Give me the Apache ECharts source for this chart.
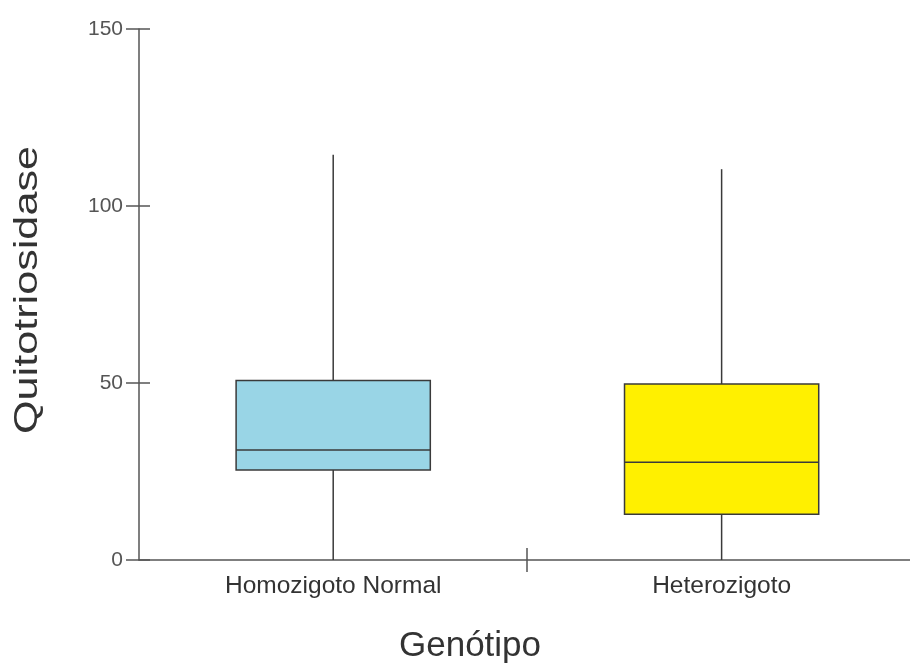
<!DOCTYPE html>
<html>
<head>
<meta charset="utf-8">
<script src="https://cdn.jsdelivr.net/npm/echarts@6/dist/echarts.min.js"></script>
<style>
  html, body { margin: 0; padding: 0; background: #fff; }
  #chart { width: 910px; height: 666px; }
</style>
</head>
<body>
<div id="chart"></div>
<script>
// Genotype groups and their box statistics (min, Q1, median, Q3, max)
const categories = ['Homozigoto Normal', 'Heterozigoto'];
const boxMin    = [0, 0];
const boxQ1     = [25.4, 12.9];
const boxMedian = [31.1, 27.6];
const boxQ3     = [50.7, 49.7];
const boxMax    = [114.5, 110.4];
const boxColors = ['#99d5e6', '#fff000'];
const yTicks    = [0, 50, 100, 150];

const FONT = '"Liberation Sans", Arial, sans-serif';
const AXIS_COLOR = '#555';

const boxData = categories.map((c, i) => [i, boxMin[i], boxQ1[i], boxMedian[i], boxQ3[i], boxMax[i]]);

function renderBox(params, api) {
  const idx = api.value(0);
  const pMin = api.coord([idx, api.value(1)]);
  const pQ1 = api.coord([idx, api.value(2)]);
  const pMed = api.coord([idx, api.value(3)]);
  const pQ3 = api.coord([idx, api.value(4)]);
  const pMax = api.coord([idx, api.value(5)]);
  const unit = api.size([1, 0])[0];
  const half = unit * 0.25;
  const cx = pQ1[0];
  const stroke = { stroke: '#3a3a3a', lineWidth: 1.5 };
  return {
    type: 'group',
    children: [
      { type: 'line', shape: { x1: cx, y1: pMax[1], x2: cx, y2: pQ3[1] }, style: stroke },
      { type: 'line', shape: { x1: cx, y1: pQ1[1], x2: cx, y2: pMin[1] }, style: stroke },
      { type: 'rect', shape: { x: cx - half, y: pQ3[1], width: half * 2, height: pQ1[1] - pQ3[1] },
        style: { fill: boxColors[idx], stroke: '#3a3a3a', lineWidth: 1.5 } },
      { type: 'line', shape: { x1: cx - half, y1: pMed[1], x2: cx + half, y2: pMed[1] }, style: stroke }
    ]
  };
}

// Divider tick between the two groups: a point axis on its own grid whose
// middle entry sits on the group boundary, with a tick crossing the baseline.
const dividerSlots = ['', 'divider', ''];
function dividerAxis(inside) {
  return {
    gridIndex: 1,
    type: 'category', data: dividerSlots, boundaryGap: false, position: 'bottom',
    axisLine: { show: false, onZero: false },
    axisTick: { show: true, inside: inside, length: 12, alignWithLabel: true,
      interval: (i) => i === 1, lineStyle: { color: AXIS_COLOR, width: 1.5 } },
    axisLabel: { show: false }, splitLine: { show: false }
  };
}

const chart = echarts.init(document.getElementById('chart'), null, { renderer: 'canvas' });
chart.setOption({
  animation: false,
  backgroundColor: '#fff',
  grid: [
    { left: 139, right: 0, top: 29, bottom: 106 },
    { left: 144, right: 0, top: 29, bottom: 106 }
  ],
  xAxis: [
    {
      // group axis: each group occupies one unit, centred on its index
      type: 'value', min: -0.5, max: 1.485, interval: 0.5,
      axisLine: { show: true, onZero: false, lineStyle: { color: AXIS_COLOR, width: 1.5 } },
      axisTick: { show: false },
      axisLabel: { color: '#333', fontSize: 24.5, fontFamily: FONT, margin: 14,
        showMinLabel: false, showMaxLabel: false,
        formatter: (v) => Number.isInteger(v) && categories[v] !== undefined ? categories[v] : '' },
      splitLine: { show: false }
    },
    dividerAxis(false),
    dividerAxis(true)
  ],
  yAxis: [
    {
      type: 'value', min: 0, max: 150, interval: 50, position: 'left',
      axisLine: { show: true, onZero: false, lineStyle: { color: AXIS_COLOR, width: 1.5 } },
      axisTick: { show: true, length: 13, lineStyle: { color: AXIS_COLOR, width: 1.5 } },
      axisLabel: { color: '#555', fontSize: 21, fontFamily: FONT, margin: 16,
        formatter: (v) => yTicks.includes(v) ? String(v) : '' },
      splitLine: { show: false }
    },
    {
      type: 'value', min: 0, max: 150, interval: 50, position: 'left',
      axisLine: { show: false, onZero: false },
      axisTick: { show: true, inside: true, length: 11, lineStyle: { color: AXIS_COLOR, width: 1.5 } },
      axisLabel: { show: false }, splitLine: { show: false }
    },
    {
      gridIndex: 1, type: 'value', min: 0, max: 150, show: false
    }
  ],
  graphic: [
    { type: 'text', x: 470, y: 646,
      style: { text: 'Genótipo', fill: '#333', font: '35px ' + FONT, align: 'center', verticalAlign: 'middle' } },
    { type: 'text', x: 28, y: 290, rotation: Math.PI / 2, scaleX: 1.27,
      style: { text: 'Quitotriosidase', fill: '#333', font: '34px ' + FONT, align: 'center', verticalAlign: 'middle' } }
  ],
  series: [{
    type: 'custom',
    renderItem: renderBox,
    encode: { x: 0, y: [1, 2, 3, 4, 5] },
    data: boxData,
    z: 5
  }]
});
</script>
</body>
</html>
